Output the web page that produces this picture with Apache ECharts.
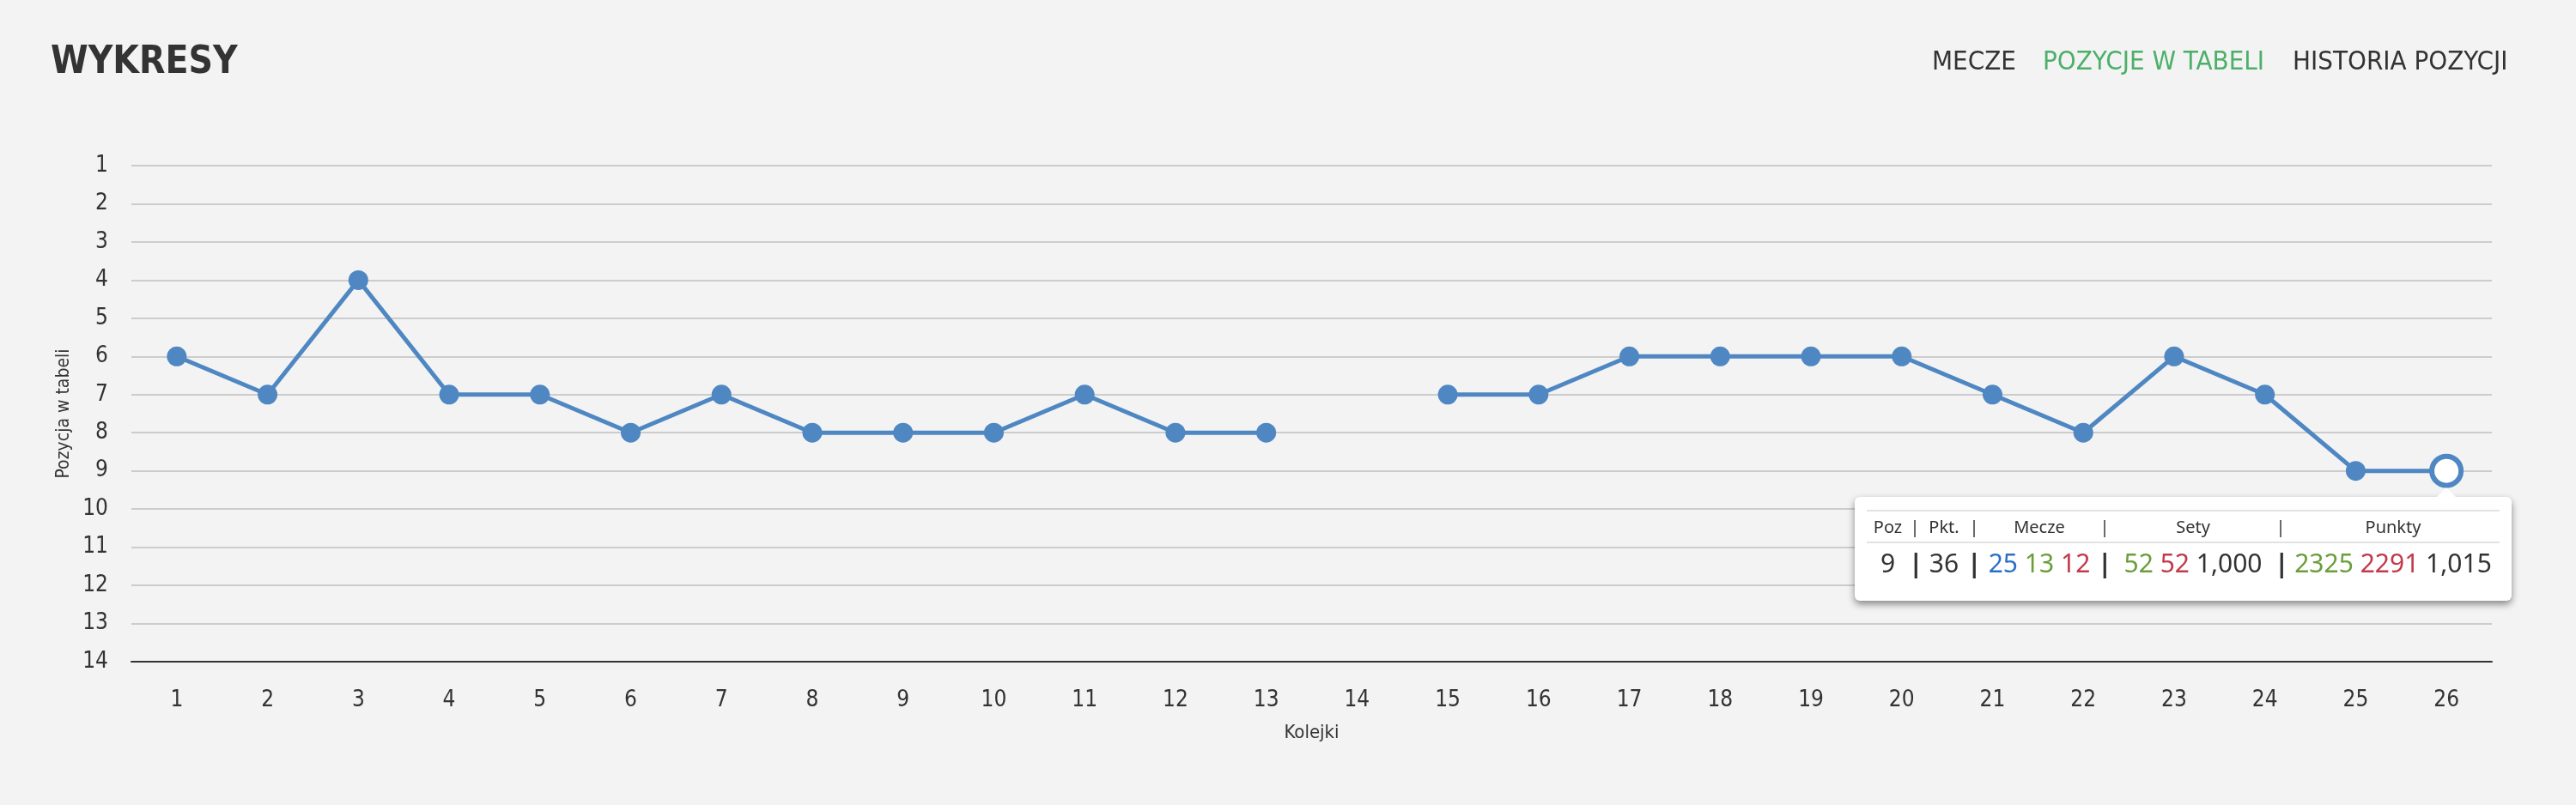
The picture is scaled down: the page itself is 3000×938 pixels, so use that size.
<!DOCTYPE html>
<html>
<head>
<meta charset="utf-8">
<script src="https://cdn.jsdelivr.net/npm/echarts@6/dist/echarts.min.js"></script>
<style>
html,body{margin:0;padding:0;background:#f3f3f3;}
#chart{width:3000px;height:938px;}
</style>
</head>
<body>
<div id="chart"></div>
<script>
// ---- data ----
var rounds = ['1','2','3','4','5','6','7','8','9','10','11','12','13','14','15','16','17','18','19','20','21','22','23','24','25','26'];
var positions = [6,7,4,7,7,8,7,8,8,8,7,8,8,null,7,7,6,6,6,6,7,8,6,7,9,9];
var menuItems = ['MECZE','POZYCJE W TABELI','HISTORIA POZYCJI'];
var tipHeaders = ['Poz','|','Pkt.','|','Mecze','|','Sety','|','Punkty'];
var tipPoz = '9';
var tipPkt = '36';
var tipMecze = ['25','13','12'];
var tipSety = ['52','52','1,000'];
var tipPunkty = ['2325','2291','1,015'];

var BLUE = '#4f87c2';
var FONT = '"DejaVu Sans Condensed", sans-serif';
var TFONT = '"Noto Sans", "Open Sans", sans-serif';

var chart = echarts.init(document.getElementById('chart'), null, {renderer:'canvas'});

var lastIdx = positions.length - 1;
var seriesData = positions.map(function(v, i){
  if (i === lastIdx) {
    return {value: v, symbolSize: 34, itemStyle: {color: '#ffffff', borderColor: BLUE, borderWidth: 6}};
  }
  return v;
});

function tipHtml(){
  var widths = [49,14,54,16,136,16,190,14,248];
  var cg = widths.map(function(w){return '<col style="width:'+w+'px">';}).join('');
  var th = tipHeaders.map(function(h){
    return '<td style="text-align:center;padding:0;font-size:20px;color:#333;">'+h+'</td>';
  }).join('');
  function span(t,c){return '<span style="color:'+c+'">'+t+'</span>';}
  var sep = '<td style="text-align:center;padding:0;color:#333;font-weight:bold;">|</td>';
  var vals = '<td style="text-align:center;padding:0;">'+span(tipPoz,'#333')+'</td>' + sep +
    '<td style="text-align:center;padding:0;">'+span(tipPkt,'#333')+'</td>' + sep +
    '<td style="text-align:center;padding:0;">'+span(tipMecze[0],'#2e6fc6')+' '+span(tipMecze[1],'#6a9e3c')+' '+span(tipMecze[2],'#c23a4b')+'</td>' + sep +
    '<td style="text-align:center;padding:0;">'+span(tipSety[0],'#6a9e3c')+' '+span(tipSety[1],'#c23a4b')+' '+span(tipSety[2],'#333')+'</td>' + sep +
    '<td style="text-align:center;padding:0;">'+span(tipPunkty[0],'#6a9e3c')+' '+span(tipPunkty[1],'#c23a4b')+' '+span(tipPunkty[2],'#333')+'</td>';
  return '<div style="position:relative;width:737px;height:106px;padding:15px 14px 0 14px;font-family:'+TFONT.replace(/"/g,"'")+';">' +
    '<div style="position:absolute;left:678px;top:-11px;width:0;height:0;border-left:11px solid transparent;border-right:11px solid transparent;border-bottom:11px solid #ffffff;"></div>' +
    '<table style="border-collapse:collapse;table-layout:fixed;width:737px;">' + cg +
    '<tr style="height:37px;border-top:2px solid #e2e2e2;border-bottom:2px solid #e2e2e2;">'+th+'</tr>' +
    '<tr style="height:46px;font-size:30px;">'+vals+'</tr>' +
    '</table></div>';
}

var titles = [{
  text: 'WYKRESY', left: 54, top: 47,
  textStyle: {fontFamily: FONT, fontSize: 44, fontWeight: 'bold', color: '#333'}
}];
var menuLeft = [2245, 2374, 2665];
menuItems.forEach(function(m, i){
  titles.push({
    text: m, left: menuLeft[i], top: 52,
    textStyle: {fontFamily: FONT, fontSize: 31, fontWeight: 'normal', color: i === 1 ? '#4caf6a' : '#333'}
  });
});

chart.setOption({
  backgroundColor: '#f3f3f3',
  animation: false,
  title: titles,
  grid: {left: 153, right: 98, top: 193, bottom: 167, containLabel: false},
  tooltip: {
    trigger: 'item',
    triggerOn: 'none',
    alwaysShowContent: true,
    padding: 0,
    backgroundColor: '#ffffff',
    borderWidth: 0,
    extraCssText: 'box-shadow:0 4px 9px rgba(0,0,0,0.45);border-radius:6px;',
    transitionDuration: 0,
    position: function(point){ return [point[0] - 689, point[1] + 30]; },
    formatter: function(){ return tipHtml(); }
  },
  xAxis: {
    type: 'category',
    data: rounds,
    boundaryGap: true,
    name: 'Kolejki',
    nameLocation: 'middle',
    nameGap: 72,
    nameTextStyle: {fontFamily: FONT, fontSize: 22, color: '#333'},
    axisLine: {lineStyle: {color: '#333', width: 2}},
    axisTick: {show: false},
    axisLabel: {fontFamily: FONT, fontSize: 26, color: '#333', margin: 32},
    splitLine: {show: false}
  },
  yAxis: {
    type: 'value',
    inverse: true,
    min: 1, max: 14, interval: 1,
    name: 'Pozycja w tabeli',
    nameLocation: 'middle',
    nameGap: 52,
    nameRotate: 90,
    nameTextStyle: {fontFamily: FONT, fontSize: 21, color: '#333'},
    axisLine: {show: false},
    axisTick: {show: false},
    axisLabel: {fontFamily: FONT, fontSize: 26, color: '#333', margin: 27},
    splitLine: {lineStyle: {color: '#cccccc', width: 2}}
  },
  series: [{
    type: 'line',
    data: seriesData,
    connectNulls: false,
    symbol: 'circle',
    symbolSize: 23,
    showAllSymbol: true,
    lineStyle: {color: BLUE, width: 5},
    itemStyle: {color: BLUE},
    emphasis: {disabled: true}
  }]
});

chart.dispatchAction({type: 'showTip', seriesIndex: 0, dataIndex: lastIdx});
</script>
</body>
</html>
